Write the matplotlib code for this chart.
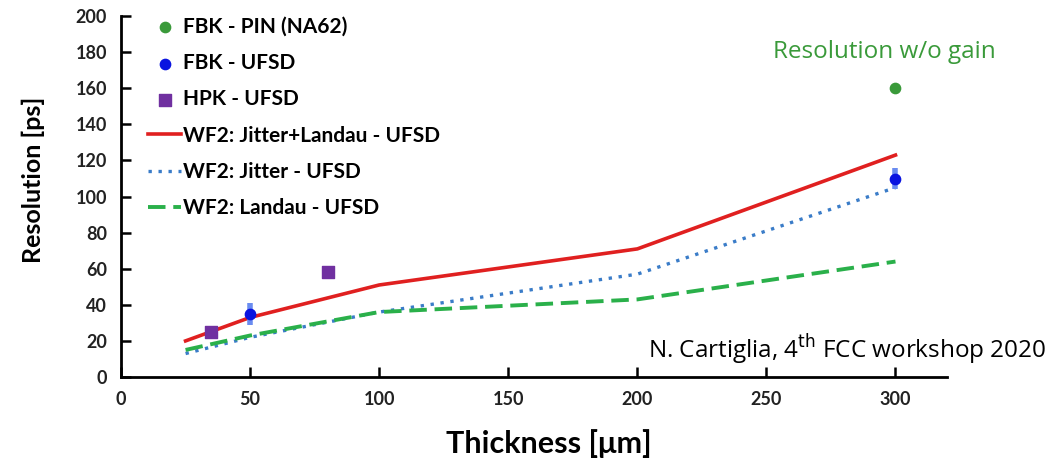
import matplotlib.pyplot as plt

# Simulated curves (WF2)
model_x = [25, 50, 100, 200, 300]
jitter_landau = [20, 33, 51, 71, 123]
jitter_only = [13, 22, 36, 57, 105]
landau_only = [15, 23, 36, 43, 64]

# Measurements
pin_x = [300]
pin_y = [160]
fbk_x = [50, 300]
fbk_y = [35, 110]
fbk_err = [6, 6]
hpk_x = [35, 80]
hpk_y = [25, 58]

X_TICKS = [0, 50, 100, 150, 200, 250, 300]
Y_TICKS = list(range(0, 201, 20))

plt.rcParams["font.family"] = ["Lato", "DejaVu Sans"]

fig = plt.figure(figsize=(10.47, 4.62), dpi=100)
ax = fig.add_axes([0.1156, 0.184, 0.789, 0.781])

ax.plot(model_x, jitter_landau, color="#e02020", lw=2.6, label="WF2: Jitter+Landau - UFSD")
ax.plot(model_x, jitter_only, color="#3a7cc8", lw=2.4, ls=(0, (1, 2)), label="WF2: Jitter - UFSD")
ax.plot(model_x, landau_only, color="#2ab04a", lw=2.8, ls=(0, (4.5, 2)), label="WF2: Landau - UFSD")

ax.scatter(pin_x, pin_y, s=55, color="#3a9a3a", zorder=5, label="FBK - PIN (NA62)")
ax.errorbar(fbk_x, fbk_y, yerr=fbk_err, fmt="none", ecolor="#6a8cf0", elinewidth=4, zorder=4)
ax.scatter(fbk_x, fbk_y, s=55, color="#0a14e0", zorder=5, label="FBK - UFSD")
ax.scatter(hpk_x, hpk_y, s=80, marker="s", color="#7030a0", zorder=5, label="HPK - UFSD")

ax.set_xlim(0, 320)
ax.set_ylim(0, 200)
ax.set_xticks(X_TICKS)
ax.set_yticks(Y_TICKS)
ax.tick_params(direction="in", length=7, width=1.8, labelsize=13, pad=10, labelcolor="#222222")
for lbl in ax.get_xticklabels() + ax.get_yticklabels():
    lbl.set_fontweight("bold")
ax.spines["top"].set_visible(False)
ax.spines["right"].set_visible(False)
ax.spines["left"].set_linewidth(2)
ax.spines["bottom"].set_linewidth(2)

ax.set_xlabel("Thickness [μm]", fontsize=22, fontweight="bold")
ax.xaxis.set_label_coords(0.518, -0.145)
ax.set_ylabel("Resolution [ps]", fontsize=18, fontweight="bold")
ax.yaxis.set_label_coords(-0.092, 0.546)

handles, labels = ax.get_legend_handles_labels()
order = [3, 4, 5, 0, 1, 2]
ax.legend([handles[i] for i in order], [labels[i] for i in order],
          loc="upper left", bbox_to_anchor=(0.01, 1.05), frameon=False,
          prop={"weight": "bold", "size": 15}, labelspacing=0.78,
          handlelength=1.6, handletextpad=0.1)

fig.text(0.951, 0.887, "Resolution w/o gain", color="#3a9a3a", fontsize=17.5,
         family="Open Sans", ha="right", va="center")
fig.text(0.999, 0.243, "N. Cartiglia, 4$^{\\rm th}$ FCC workshop 2020", color="black",
         fontsize=17.5, family="Open Sans", ha="right", va="center")

fig.savefig("out.png", dpi=100)
